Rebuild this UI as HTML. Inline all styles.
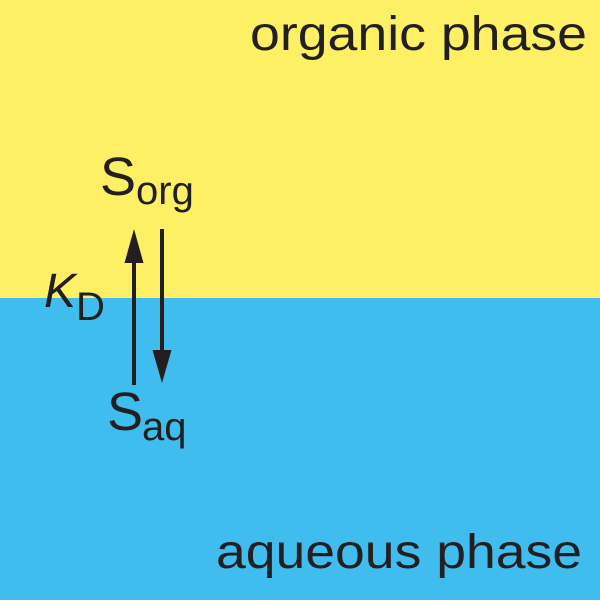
<!DOCTYPE html>
<html><head><meta charset="utf-8"><style>html,body{margin:0;padding:0}</style></head>
<body>
<svg width="600" height="600" xmlns="http://www.w3.org/2000/svg" font-family="Liberation Sans, sans-serif" fill="#231f20">
<rect x="0" y="0" width="600" height="298" fill="#fef065"/>
<rect x="0" y="298" width="600" height="302" fill="#40bdef"/>
<text x="250" y="50" font-size="48" textLength="337" lengthAdjust="spacingAndGlyphs">organic phase</text>
<text x="216" y="568" font-size="48" textLength="366" lengthAdjust="spacingAndGlyphs">aqueous phase</text>
<text x="100" y="195" font-size="54">S</text>
<text x="136" y="204" font-size="40">org</text>
<text x="107" y="430" font-size="54">S</text>
<text x="142" y="440" font-size="40">aq</text>
<text x="44" y="307" font-size="48" font-style="italic">K</text>
<text x="76" y="320" font-size="40">D</text>
<line x1="134" y1="385" x2="134" y2="255" stroke="#231f20" stroke-width="4"/>
<polygon points="134,229 124.5,263 143.5,263"/>
<line x1="162" y1="229" x2="162" y2="355" stroke="#231f20" stroke-width="4"/>
<polygon points="162,383 152.5,350 171.5,350"/>
</svg>
</body></html>
